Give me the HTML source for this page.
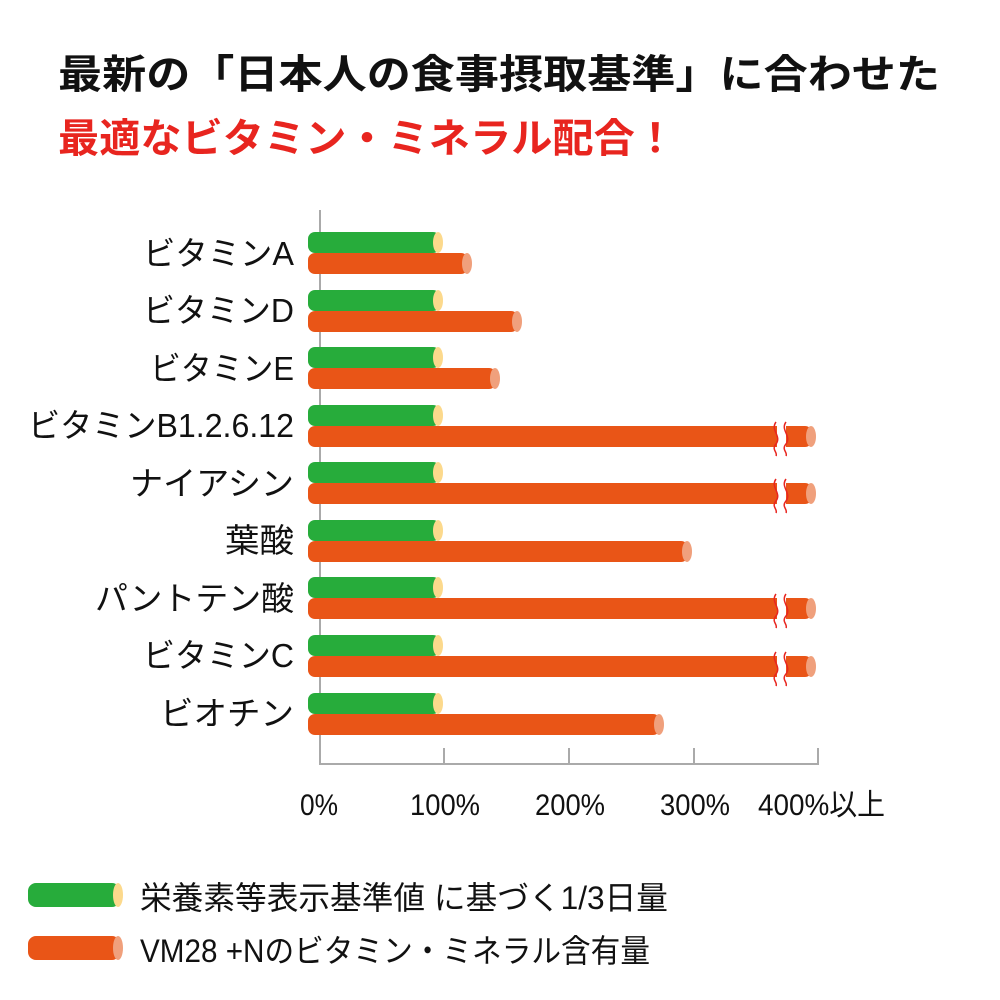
<!DOCTYPE html>
<html><head><meta charset="utf-8"><style>
body{margin:0;background:#fff}
svg{display:block}
text{font-family:"Liberation Sans","Noto Sans CJK JP",sans-serif}
</style></head><body>
<svg width="1000" height="1000" viewBox="0 0 1000 1000">
<text x="58" y="88" font-size="40" font-weight="bold" fill="#111" textLength="882" lengthAdjust="spacingAndGlyphs">最新の「日本人の食事摂取基準」に合わせた</text>
<text x="58" y="152" font-size="40" font-weight="bold" fill="#e8251f" textLength="618" lengthAdjust="spacingAndGlyphs">最適なビタミン・ミネラル配合！</text>
<g stroke="#aaa" stroke-width="2" fill="none">
<line x1="320" y1="210" x2="320" y2="765"/>
<line x1="320" y1="764" x2="819" y2="764"/>
<line x1="444" y1="748" x2="444" y2="765"/>
<line x1="569" y1="748" x2="569" y2="765"/>
<line x1="694" y1="748" x2="694" y2="765"/>
<line x1="818" y1="748" x2="818" y2="765"/>
</g>
<g font-size="30" fill="#111">
<text x="300" y="815" textLength="38" lengthAdjust="spacingAndGlyphs">0%</text>
<text x="410" y="815" textLength="70" lengthAdjust="spacingAndGlyphs">100%</text>
<text x="535" y="815" textLength="70" lengthAdjust="spacingAndGlyphs">200%</text>
<text x="660" y="815" textLength="70" lengthAdjust="spacingAndGlyphs">300%</text>
<text x="758" y="815" textLength="127" lengthAdjust="spacingAndGlyphs">400%以上</text>
</g>
<defs>
<g id="g"><rect x="308" y="0" width="132" height="21" rx="7" fill="#27ac3b"/><ellipse cx="438" cy="10.5" rx="5" ry="10.5" fill="#fcd98c"/></g>
</defs>
<g font-size="33" fill="#111" lengthAdjust="spacingAndGlyphs">
<text x="143" y="265" textLength="151" lengthAdjust="spacingAndGlyphs">ビタミンA</text>
<text x="143" y="322" textLength="151" lengthAdjust="spacingAndGlyphs">ビタミンD</text>
<text x="150" y="380" textLength="144" lengthAdjust="spacingAndGlyphs">ビタミンE</text>
<text x="28" y="437" textLength="266" lengthAdjust="spacingAndGlyphs">ビタミンB1.2.6.12</text>
<text x="130" y="495" textLength="164" lengthAdjust="spacingAndGlyphs">ナイアシン</text>
<text x="225" y="552" textLength="69" lengthAdjust="spacingAndGlyphs">葉酸</text>
<text x="95" y="610" textLength="199" lengthAdjust="spacingAndGlyphs">パントテン酸</text>
<text x="143" y="667" textLength="151" lengthAdjust="spacingAndGlyphs">ビタミンC</text>
<text x="160" y="725" textLength="134" lengthAdjust="spacingAndGlyphs">ビオチン</text>
</g>
<g>
<use href="#g" y="232"/><use href="#g" y="290"/><use href="#g" y="347"/><use href="#g" y="405"/><use href="#g" y="462"/><use href="#g" y="520"/><use href="#g" y="577"/><use href="#g" y="635"/><use href="#g" y="693"/>
</g>
<g fill="#e95517">
<rect x="308" y="253" width="160" height="21" rx="7"/>
<rect x="308" y="311" width="210" height="21" rx="7"/>
<rect x="308" y="368" width="188" height="21" rx="7"/>
<rect x="308" y="426" width="504" height="21" rx="7"/>
<rect x="308" y="483" width="504" height="21" rx="7"/>
<rect x="308" y="541" width="380" height="21" rx="7"/>
<rect x="308" y="598" width="504" height="21" rx="7"/>
<rect x="308" y="656" width="504" height="21" rx="7"/>
<rect x="308" y="714" width="352" height="21" rx="7"/>
</g>
<g fill="#f0a07c">
<ellipse cx="467" cy="263.5" rx="5" ry="10.5"/>
<ellipse cx="517" cy="321.5" rx="5" ry="10.5"/>
<ellipse cx="495" cy="378.5" rx="5" ry="10.5"/>
<ellipse cx="811" cy="436.5" rx="5" ry="10.5"/>
<ellipse cx="811" cy="493.5" rx="5" ry="10.5"/>
<ellipse cx="687" cy="551.5" rx="5" ry="10.5"/>
<ellipse cx="811" cy="608.5" rx="5" ry="10.5"/>
<ellipse cx="811" cy="666.5" rx="5" ry="10.5"/>
<ellipse cx="659" cy="724.5" rx="5" ry="10.5"/>
</g>
<defs>
<g id="brk">
<rect x="777" y="-3" width="9" height="30" fill="#fff"/>
<path d="M776 -4 c-6 8 6 14 0 22 c-5 6 2 8 0 12 M786 -4 c-6 8 6 14 0 22 c-5 6 2 8 0 12" stroke="#e8251f" stroke-width="1.5" fill="none"/>
</g>
</defs>
<use href="#brk" y="426"/><use href="#brk" y="483"/><use href="#brk" y="598"/><use href="#brk" y="656"/>
<rect x="28" y="883" width="92" height="24" rx="8" fill="#27ac3b"/><ellipse cx="118" cy="895" rx="5" ry="12" fill="#fcd98c"/>
<rect x="28" y="936" width="92" height="24" rx="8" fill="#e95517"/><ellipse cx="118" cy="948" rx="5" ry="12" fill="#f0a07c"/>
<text x="140" y="909" font-size="32" fill="#111" textLength="528" lengthAdjust="spacingAndGlyphs">栄養素等表示基準値 に基づく1/3日量</text>
<text x="140" y="962" font-size="32" fill="#111" textLength="510" lengthAdjust="spacingAndGlyphs">VM28 +Nのビタミン・ミネラル含有量</text>
</svg>
</body></html>
